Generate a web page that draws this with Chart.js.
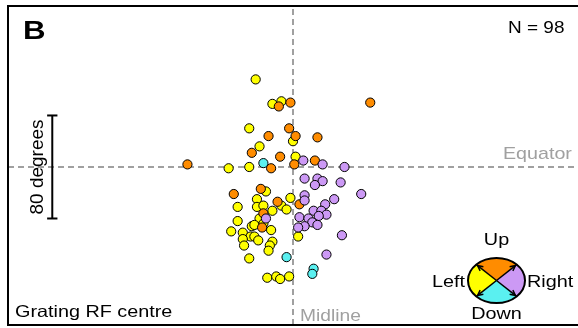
<!DOCTYPE html>
<html>
<head>
<meta charset="utf-8">
<script src="https://cdn.jsdelivr.net/npm/chart.js@4.4.1/dist/chart.umd.min.js"></script>
<style>
  html, body { margin: 0; padding: 0; background: #fff; }
  canvas { display: block; }
</style>
</head>
<body>
<canvas id="rfChart" width="578" height="328"></canvas>
<script>
// Preferred direction of each cell, RF centre as [azimuth, elevation] in degrees
const upCells = [
  [-82, 2], [-11, 47], [-2, 50], [60, 50], [-3, 30], [2, 24], [-19, 24], [19, 23],
  [-32, 11], [-10, 8], [17, 5], [-17, -1], [1, 2], [-46, -21], [-25, -17],
  [-12, -27], [5, -29], [-23, -36], [-24, -47]
];
const leftCells = [
  [-29, 68], [-16, 49], [-9, 51], [-34, 30], [0, 20], [-26, 16], [2, 8], [-50, -1],
  [-34, 0], [-21, -19], [-28, -25], [-2, -24], [-43, -31], [-28, -31], [-23, -30],
  [-9, -30], [-5, -33], [-16, -34], [-26, -40], [-43, -42], [-32, -46], [-30, -45],
  [-17, -49], [-48, -50], [-39, -51], [-33, -54], [-30, -54], [-27, -57], [-39, -56],
  [-38, -61], [-16, -58], [-18, -61], [-19, -65], [-34, -71], [4, -54], [-20, -86],
  [-13, -85], [-10, -87], [-3, -85], [-23, -44]
];
const rightCells = [
  [8, 5], [23, 2], [40, 0], [9, -9], [19, -9], [23, -11], [17, -14], [37, -12],
  [53, -21], [9, -22], [32, -25], [9, -26], [25, -29], [16, -34], [22, -34],
  [26, -37], [5, -39], [20, -38], [12, -40], [15, -43], [19, -45], [9, -46],
  [4, -47], [38, -53], [26, -68], [-21, -40]
];
const downCells = [[-23, 3], [-5, -70], [16, -79], [15, -83]];

const directions = ["Up", "Left", "Right", "Down"];
const dirColors = ["#ff8c00", "#ffff00", "#cc99f5", "#5af0f0"];

const xRange = [-221.4, 221.4];
const yRange = [-122.7, 125];
const scaleBarAz = -187;
const scaleBarHalf = 40;   // 80 degrees in total

const toPoints = list => list.map(([x, y]) => ({ x, y }));

function dashed(data) {
  return {
    type: "line", data, borderColor: "#a0a0a0", borderWidth: 2,
    borderDash: [6, 4], pointRadius: 0, fill: false
  };
}
function solid(data) {
  return {
    type: "line", data, borderColor: "#000", borderWidth: 2,
    pointRadius: 0, fill: false
  };
}

const cellSets = [downCells, rightCells, upCells, leftCells];
const cellNames = ["Down", "Right", "Up", "Left"];
const datasets = cellSets.map((cells, i) => ({
  label: cellNames[i],
  data: toPoints(cells),
  backgroundColor: dirColors[directions.indexOf(cellNames[i])],
  borderColor: "#000",
  borderWidth: 1,
  pointRadius: 4.6,
  pointHoverRadius: 4.6
}));

// reference lines and scale bar (drawn beneath the cells)
datasets.push(
  solid([{ x: scaleBarAz, y: -scaleBarHalf }, { x: scaleBarAz, y: scaleBarHalf }]),
  solid([{ x: scaleBarAz - 4, y: scaleBarHalf }, { x: scaleBarAz + 4, y: scaleBarHalf }]),
  solid([{ x: scaleBarAz - 4, y: -scaleBarHalf }, { x: scaleBarAz + 4, y: -scaleBarHalf }]),
  dashed([{ x: 0, y: yRange[0] }, { x: 0, y: yRange[1] }]),
  dashed([{ x: xRange[0], y: 0 }, { x: xRange[1], y: 0 }])
);

function label(ctx, str, x, y, size, opts = {}) {
  ctx.save();
  ctx.font = `${opts.bold ? "bold " : ""}${size}px "Liberation Sans", Arial, sans-serif`;
  ctx.fillStyle = opts.color || "#000";
  ctx.textBaseline = "alphabetic";
  ctx.textAlign = opts.align || "left";
  ctx.translate(x, y);
  ctx.scale(opts.sx || 1.2, 1);
  ctx.fillText(str, 0, 0);
  ctx.restore();
}

const decorations = {
  id: "decorations",
  beforeDatasetsDraw(chart) {
    const { ctx, scales: { y } } = chart;
    // white patch for the rotated scale label
    ctx.save();
    ctx.fillStyle = "#fff";
    ctx.fillRect(26, y.getPixelForValue(5), 20, y.getPixelForValue(-5) - y.getPixelForValue(5));
    ctx.restore();
  },
  afterDatasetsDraw(chart) {
    const { ctx, chartArea: a, scales: { x, y } } = chart;

    // frame
    ctx.save();
    ctx.strokeStyle = "#000";
    ctx.lineWidth = 2;
    ctx.beginPath();
    ctx.moveTo(578, a.top);
    ctx.lineTo(a.left, a.top);
    ctx.lineTo(a.left, a.bottom);
    ctx.lineTo(578, a.bottom);
    ctx.stroke();
    ctx.restore();

    label(ctx, "B", 23, 39, 25, { bold: true, sx: 1.25 });
    label(ctx, "N = 98", 508, 32.5, 16.5, { sx: 1.15 });
    label(ctx, "Grating RF centre", 15, 317, 16.5);
    label(ctx, "Midline", x.getPixelForValue(0) + 7, 321, 16, { color: "#a0a0a0" });
    label(ctx, "Equator", 503, y.getPixelForValue(0) - 8, 16.4, { color: "#a0a0a0" });

    // rotated scale bar label
    ctx.save();
    ctx.translate(43, y.getPixelForValue(0));
    ctx.rotate(-Math.PI / 2);
    ctx.font = '19px "Liberation Sans", Arial, sans-serif';
    ctx.fillStyle = "#000";
    ctx.textAlign = "center";
    ctx.fillText("80 degrees", 0, 0);
    ctx.restore();

    // direction key
    const cx = 496.5, cy = 280.5, rx = 28.5, ry = 22.5;
    const q = Math.PI / 4;
    const slices = [
      ["Up", -3 * q, -q], ["Right", -q, q], ["Down", q, 3 * q], ["Left", 3 * q, 5 * q]
    ];
    ctx.save();
    slices.forEach(([dir, s, e]) => {
      ctx.beginPath();
      ctx.moveTo(cx, cy);
      ctx.ellipse(cx, cy, rx, ry, 0, s, e);
      ctx.closePath();
      ctx.fillStyle = dirColors[directions.indexOf(dir)];
      ctx.fill();
    });
    ctx.beginPath();
    ctx.ellipse(cx, cy, rx, ry, 0, 0, 2 * Math.PI);
    ctx.strokeStyle = "#000";
    ctx.lineWidth = 2;
    ctx.stroke();
    ctx.lineWidth = 1.5;
    [-3 * q, -q, q, 3 * q].forEach(ang => {
      const ex = cx + rx * Math.cos(ang), ey = cy + ry * Math.sin(ang);
      ctx.beginPath();
      ctx.moveTo(cx, cy);
      ctx.lineTo(ex, ey);
      ctx.stroke();
      const dir = Math.atan2(ey - cy, ex - cx);
      const tx = ex - 1.5 * Math.cos(dir), ty = ey - 1.5 * Math.sin(dir);
      ctx.beginPath();
      ctx.moveTo(tx, ty);
      ctx.lineTo(tx - 6 * Math.cos(dir - 0.45), ty - 6 * Math.sin(dir - 0.45));
      ctx.moveTo(tx, ty);
      ctx.lineTo(tx - 6 * Math.cos(dir + 0.45), ty - 6 * Math.sin(dir + 0.45));
      ctx.stroke();
    });
    ctx.restore();

    label(ctx, "Up", cx, 245, 16.5, { align: "center" });
    label(ctx, "Left", 465, 287, 16.5, { align: "right" });
    label(ctx, "Right", 527, 287, 16.5);
    label(ctx, "Down", cx, 319, 16.5, { align: "center" });
  }
};

new Chart(document.getElementById("rfChart").getContext("2d"), {
  type: "scatter",
  data: { datasets },
  options: {
    responsive: false,
    animation: false,
    layout: { autoPadding: false, padding: { left: 8, top: 6, right: 0, bottom: 3 } },
    scales: {
      x: { type: "linear", min: xRange[0], max: xRange[1], display: false },
      y: { type: "linear", min: yRange[0], max: yRange[1], display: false }
    },
    plugins: {
      legend: { display: false },
      tooltip: { enabled: false }
    }
  },
  plugins: [decorations]
});
</script>
</body>
</html>
